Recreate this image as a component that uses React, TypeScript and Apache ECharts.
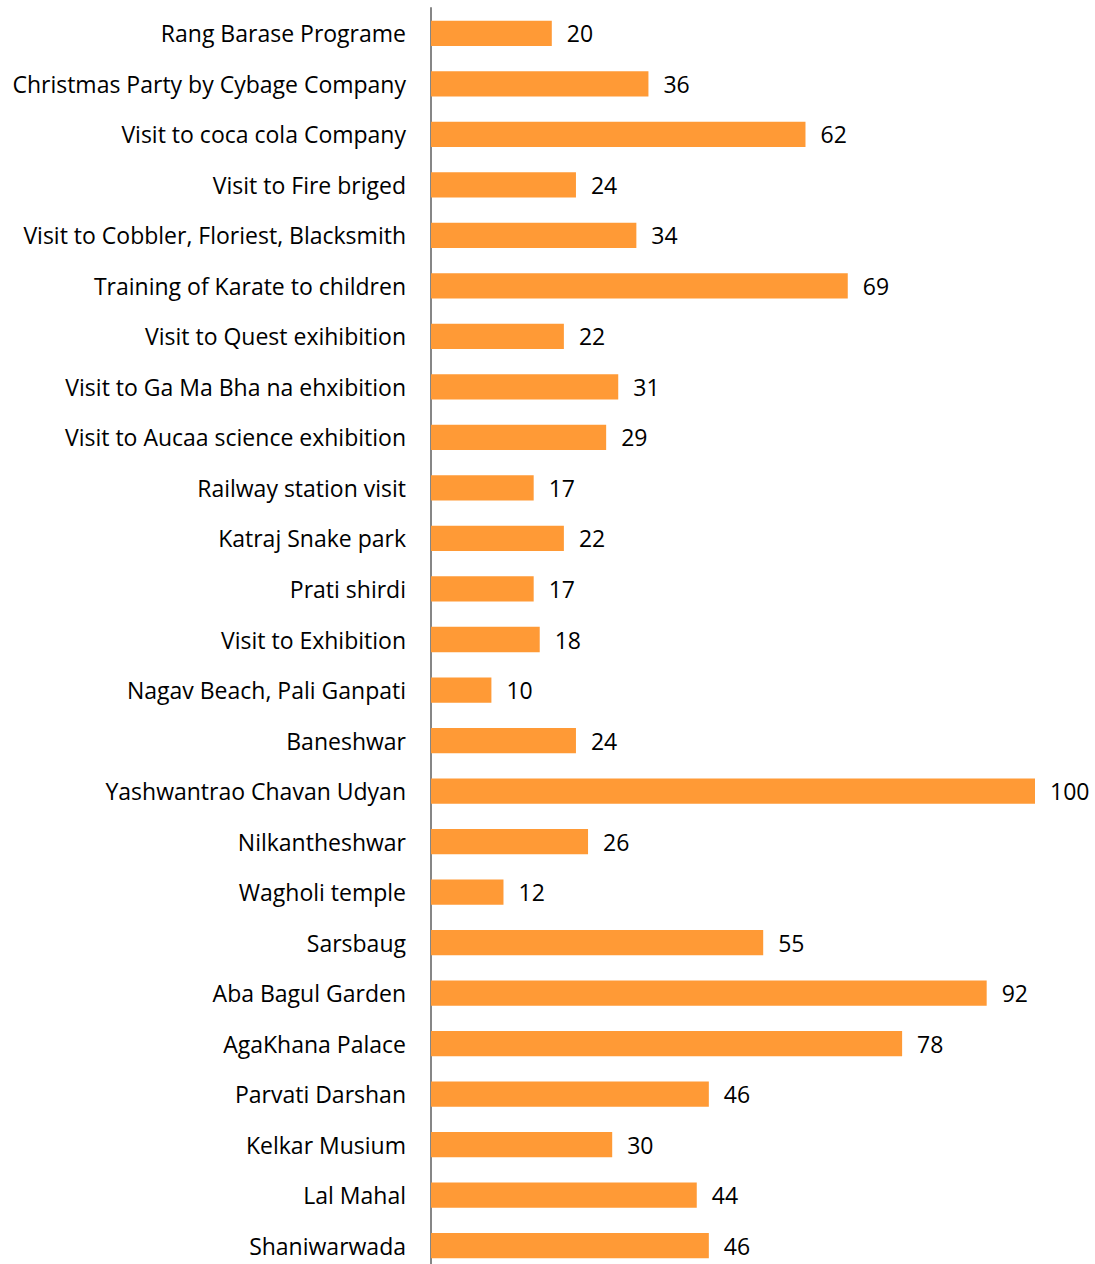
import React, { useEffect, useRef } from "react";
import * as echarts from "echarts";

const categories = [
  "Rang Barase Programe",
  "Christmas Party by Cybage Company",
  "Visit to coca cola Company",
  "Visit to Fire briged",
  "Visit to Cobbler, Floriest, Blacksmith",
  "Training of Karate to children",
  "Visit to Quest exihibition",
  "Visit to Ga Ma Bha na ehxibition",
  "Visit to Aucaa science exhibition",
  "Railway station visit",
  "Katraj Snake park",
  "Prati shirdi",
  "Visit to Exhibition",
  "Nagav Beach, Pali Ganpati",
  "Baneshwar",
  "Yashwantrao Chavan Udyan",
  "Nilkantheshwar",
  "Wagholi temple",
  "Sarsbaug",
  "Aba Bagul Garden",
  "AgaKhana Palace",
  "Parvati Darshan",
  "Kelkar Musium",
  "Lal Mahal",
  "Shaniwarwada",
];

const values = [
  20, 36, 62, 24, 34, 69, 22, 31, 29, 17, 22, 17, 18, 10, 24, 100, 26, 12, 55,
  92, 78, 46, 30, 44, 46,
];

export default function App() {
  const ref = useRef<HTMLDivElement>(null);
  useEffect(() => {
    document.body.style.margin = "0";
    document.body.style.overflow = "hidden";
    const chart = echarts.init(ref.current!, null, { renderer: "svg" });
    const font = "'Open Sans', 'Noto Sans', sans-serif";
    chart.setOption({
      animation: false,
      backgroundColor: "#ffffff",
      grid: { left: 431, top: 8, width: 604, height: 1263, containLabel: false },
      xAxis: {
        type: "value",
        min: 0,
        max: 100,
        show: false,
      },
      yAxis: {
        type: "category",
        data: categories,
        inverse: true,
        axisLine: { show: true, lineStyle: { color: "#868686", width: 2 } },
        axisTick: { show: false },
        axisLabel: {
          color: "#000000",
          fontFamily: font,
          fontSize: 23,
          margin: 25,
        },
      },
      series: [
        {
          type: "bar",
          data: values,
          barCategoryGap: "50%",
          itemStyle: { color: "#FF9A36" },
          label: {
            show: true,
            position: "right",
            distance: 15,
            color: "#000000",
            fontFamily: font,
            fontSize: 23,
          },
        },
      ],
    });
    return () => chart.dispose();
  }, []);
  return (
    <div
      ref={ref}
      style={{ position: "fixed", left: 0, top: 0, width: 1095, height: 1272 }}
    />
  );
}
